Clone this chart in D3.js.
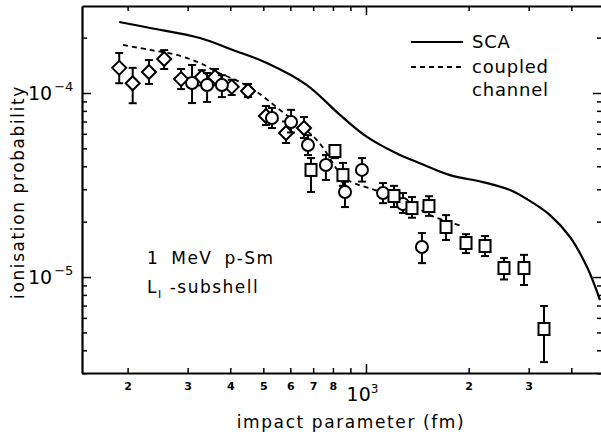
<!DOCTYPE html>
<html><head><meta charset="utf-8">
<script src="https://cdn.jsdelivr.net/npm/d3@7"></script>
<style>
body{margin:0;background:#fff}
svg{display:block}
text,tspan{font-family:"DejaVu Sans",sans-serif;fill:#000}
</style></head><body>
<svg id="c" width="601" height="435"></svg>
<script>
// impact parameter (fm) and ionisation probability
const diamondB  = [189, 207, 231, 256, 287, 330, 361, 404, 451, 509, 583, 658];
const diamondP  = [1.37e-4, 1.13e-4, 1.30e-4, 1.53e-4, 1.19e-4, 1.22e-4, 1.22e-4, 1.08e-4, 1.025e-4, 0.75e-4, 0.606e-4, 0.645e-4];
const diamondLo = [1.13e-4, 0.88e-4, 1.12e-4, 1.35e-4, 1.05e-4, 1.10e-4, 1.10e-4, 0.975e-4, 0.95e-4, 0.67e-4, 0.535e-4, 0.57e-4];
const diamondHi = [1.65e-4, 1.37e-4, 1.51e-4, 1.71e-4, 1.35e-4, 1.33e-4, 1.35e-4, 1.18e-4, 1.12e-4, 0.85e-4, 0.70e-4, 0.74e-4];

const circleB  = [309, 342, 378, 530, 603, 676, 763, 868, 973, 1122, 1284, 1459];
const circleP  = [1.133e-4, 1.105e-4, 1.105e-4, 0.731e-4, 0.696e-4, 0.522e-4, 0.406e-4, 0.290e-4, 0.382e-4, 0.286e-4, 0.249e-4, 0.1456e-4];
const circleLo = [0.882e-4, 0.894e-4, 0.95e-4, 0.645e-4, 0.61e-4, 0.46e-4, 0.337e-4, 0.24e-4, 0.33e-4, 0.252e-4, 0.223e-4, 0.119e-4];
const circleHi = [1.419e-4, 1.285e-4, 1.25e-4, 0.83e-4, 0.81e-4, 0.59e-4, 0.46e-4, 0.33e-4, 0.443e-4, 0.324e-4, 0.286e-4, 0.1734e-4];

const squareB  = [690, 811, 856, 1208, 1364, 1530, 1717, 1965, 2234, 2539, 2906, 3326];
const squareP  = [0.382e-4, 0.484e-4, 0.358e-4, 0.2755e-4, 0.237e-4, 0.243e-4, 0.187e-4, 0.153e-4, 0.1474e-4, 0.1119e-4, 0.1119e-4, 0.0522e-4];
const squareLo = [0.290e-4, 0.443e-4, 0.313e-4, 0.24e-4, 0.21e-4, 0.215e-4, 0.159e-4, 0.135e-4, 0.130e-4, 0.097e-4, 0.0905e-4, 0.0345e-4];
const squareHi = [0.443e-4, 0.515e-4, 0.417e-4, 0.313e-4, 0.272e-4, 0.275e-4, 0.217e-4, 0.171e-4, 0.167e-4, 0.127e-4, 0.132e-4, 0.0696e-4];

const scaB = [189, 233, 326, 407, 512, 671, 839, 1007, 1258, 1411, 1763, 2203, 2644, 2966, 3464, 3965, 4448, 4856];
const scaP = [2.43e-4, 2.256e-4, 1.99e-4, 1.713e-4, 1.456e-4, 1.105e-4, 0.76e-4, 0.577e-4, 0.46e-4, 0.4217e-4, 0.358e-4, 0.328e-4, 0.297e-4, 0.265e-4, 0.217e-4, 0.165e-4, 0.1133e-4, 0.075e-4];

const ccB = [194, 233, 279, 326, 366, 427, 479, 560, 718, 868, 1063, 1301, 1541, 1912];
const ccP = [1.824e-4, 1.713e-4, 1.609e-4, 1.456e-4, 1.30e-4, 1.148e-4, 1.013e-4, 0.808e-4, 0.555e-4, 0.345e-4, 0.297e-4, 0.262e-4, 0.217e-4, 0.189e-4];

const xTicks = [200, 300, 400, 500, 600, 700, 800, 900, 1000, 2000, 3000, 4000];
const xLabels = {200:"2",300:"3",400:"4",500:"5",600:"6",700:"7",800:"8",1000:"10",2000:"2",3000:"3"};
const yTicks = [3e-6,4e-6,5e-6,6e-6,7e-6,8e-6,9e-6,1e-5,2e-5,3e-5,4e-5,5e-5,6e-5,7e-5,8e-5,9e-5,1e-4,2e-4];
const yLabelExps = [-5, -4];

const L = 82, R = 602, T = 6, B = 373;
const x = d3.scaleLog().domain([147, 4921]).range([L, R]);
const y = d3.scaleLog().domain([3.01e-6, 2.97e-4]).range([B, T]);

const svg = d3.select("#c");
const expOf = d => Math.log10(d);
const isDecade = d => Math.abs(expOf(d) - Math.round(expOf(d))) < 1e-9;
const isMajorX = v => v === 1000;
const isMajorY = d => isDecade(d);

// bottom axis
const gx = svg.append("g").attr("transform", `translate(0,${B})`)
  .call(d3.axisBottom(x).tickValues(xTicks).tickSizeInner(-5).tickSizeOuter(0).tickPadding(9)
    .tickFormat(d => xLabels[d] || ""));
gx.select(".domain").attr("stroke-width", 2.2);
gx.selectAll(".tick line").attr("stroke-width", 1.5).attr("y2", d => isMajorX(d) ? -9 : -5);
gx.selectAll(".tick text").attr("font-size", 11).attr("font-weight", "bold").attr("dy", "0.75em")
  .attr("y", 9);
gx.selectAll(".tick text").filter(d => d === 1000)
  .attr("font-size", 19).attr("font-weight", "normal").attr("y", 14).attr("dx", -4)
  .append("tspan").attr("font-size", 12).attr("dy", "-0.7em").text("3");

// top axis
const gt = svg.append("g").attr("transform", `translate(0,${T})`)
  .call(d3.axisTop(x).tickValues(xTicks).tickSizeInner(-5).tickSizeOuter(0).tickFormat(""));
gt.select(".domain").attr("stroke-width", 2.2);
gt.selectAll(".tick line").attr("stroke-width", 1.5).attr("y2", d => isMajorX(d) ? 9 : 5);

// left axis
const gy = svg.append("g").attr("transform", `translate(${L},0)`)
  .call(d3.axisLeft(y).tickValues(yTicks).tickSizeInner(-5).tickSizeOuter(0).tickPadding(8)
    .tickFormat(d => (isDecade(d) && yLabelExps.includes(Math.round(expOf(d)))) ? "10" : ""));
gy.select(".domain").attr("stroke-width", 2.2);
gy.selectAll(".tick line").attr("stroke-width", 1.5).attr("x2", d => isMajorY(d) ? 9 : 5);
gy.selectAll(".tick text").attr("font-size", 19).attr("text-anchor", "start").attr("x", -54).attr("dy", "0.36em")
  .filter(d => isDecade(d) && yLabelExps.includes(Math.round(expOf(d))))
  .append("tspan").attr("font-size", 13).attr("dx", 2).attr("dy", "-0.75em")
  .text(d => "\u2212" + Math.abs(Math.round(expOf(d))));

// right axis (edge just outside the picture)
const gr = svg.append("g").attr("transform", `translate(${R},0)`)
  .call(d3.axisRight(y).tickValues(yTicks).tickSizeInner(-5).tickSizeOuter(0).tickFormat(""));
gr.select(".domain").attr("stroke-width", 2.2);
gr.selectAll(".tick line").attr("stroke-width", 1.5).attr("x2", d => isMajorY(d) ? -9 : -5);

// curves
const line = d3.line().x(d => x(d[0])).y(d => y(d[1])).curve(d3.curveCatmullRom);
svg.append("path").datum(scaB.map((b, i) => [b, scaP[i]]))
  .attr("d", line).attr("fill", "none").attr("stroke", "#000").attr("stroke-width", 2.2);
svg.append("path").datum(ccB.map((b, i) => [b, ccP[i]]))
  .attr("d", line).attr("fill", "none").attr("stroke", "#000").attr("stroke-width", 1.8)
  .attr("stroke-dasharray", "5,4");

// data points
function drawSeries(bs, ps, lo, hi, shape) {
  const g = svg.append("g").attr("stroke", "#000").attr("stroke-width", 2).attr("fill", "#fff");
  bs.forEach((b, i) => {
    const cx = x(b), cy = y(ps[i]), y1 = y(hi[i]), y2 = y(lo[i]);
    g.append("line").attr("x1", cx).attr("x2", cx).attr("y1", y1).attr("y2", y2);
    g.append("line").attr("x1", cx - 4).attr("x2", cx + 4).attr("y1", y1).attr("y2", y1);
    g.append("line").attr("x1", cx - 4).attr("x2", cx + 4).attr("y1", y2).attr("y2", y2);
    if (shape === "diamond") {
      g.append("path").attr("d", `M${cx},${cy - 7}L${cx + 7},${cy}L${cx},${cy + 7}L${cx - 7},${cy}Z`);
    } else if (shape === "circle") {
      g.append("circle").attr("cx", cx).attr("cy", cy).attr("r", 6);
    } else {
      g.append("rect").attr("x", cx - 5.5).attr("y", cy - 6).attr("width", 11).attr("height", 12);
    }
  });
}
drawSeries(diamondB, diamondP, diamondLo, diamondHi, "diamond");
drawSeries(circleB, circleP, circleLo, circleHi, "circle");
drawSeries(squareB, squareP, squareLo, squareHi, "square");

// legend
svg.append("line").attr("x1", 411).attr("x2", 463).attr("y1", 42).attr("y2", 42)
  .attr("stroke", "#000").attr("stroke-width", 2.2);
svg.append("line").attr("x1", 411).attr("x2", 463).attr("y1", 67).attr("y2", 67)
  .attr("stroke", "#000").attr("stroke-width", 1.8).attr("stroke-dasharray", "5,4");
const legendStyle = s => s.attr("font-size", 18).attr("letter-spacing", 0.8);
svg.append("text").attr("x", 472).attr("y", 48).call(legendStyle).text("SCA");
svg.append("text").attr("x", 472).attr("y", 73).call(legendStyle).text("coupled");
svg.append("text").attr("x", 472).attr("y", 96).call(legendStyle).text("channel");

// annotation
svg.append("text").attr("x", 147).attr("y", 264).attr("font-size", 17)
  .attr("letter-spacing", 1.5).attr("word-spacing", 5).text("1 MeV p-Sm");
const t2 = svg.append("text").attr("x", 147).attr("y", 293).attr("font-size", 17).attr("letter-spacing", 1.5);
t2.append("tspan").text("L");
t2.append("tspan").attr("font-size", 11).attr("dy", 5).attr("fill", "#000").text("I");
t2.append("tspan").attr("dy", -5).text(" -subshell");

// axis titles
svg.append("text").attr("x", 351).attr("y", 428).attr("text-anchor", "middle")
  .attr("font-size", 17).attr("letter-spacing", 1.6).text("impact parameter (fm)");
svg.append("text").attr("transform", "translate(24,192) rotate(-90)").attr("text-anchor", "middle")
  .attr("font-size", 17).attr("letter-spacing", 1.6).text("ionisation probability");
</script>
</body></html>
